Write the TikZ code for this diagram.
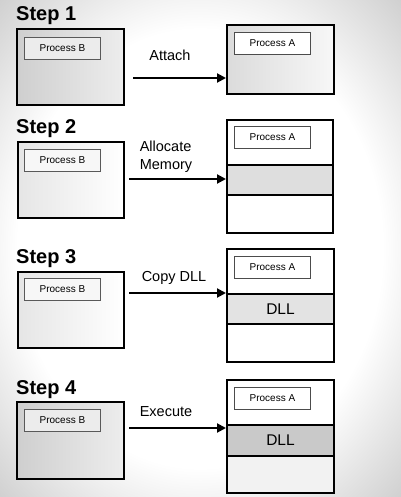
\documentclass[tikz,border=0pt]{standalone}
\usepackage{fontspec}
\setmainfont{Liberation Sans}
\usetikzlibrary{arrows.meta}
\pgfdeclareradialshading{vign}{\pgfpoint{0bp}{0bp}}{color(0bp)=(white); color(19bp)=(white); color(31bp)=(gray!40); color(50bp)=(gray!80)}
\tikzset{
  box/.style={draw=black, line width=2pt, rectangle, inner sep=0pt, anchor=north west},
  pbox/.style={draw=gray!70!black, line width=0.9pt, fill=gray!15, rectangle, inner sep=0pt, anchor=north west, minimum width=76pt, minimum height=22pt, font=\fontsize{10}{12}\selectfont},
  pabox/.style={draw=gray!60!black, line width=0.9pt, fill=white, rectangle, inner sep=0pt, anchor=north west, minimum width=76pt, minimum height=22pt, font=\fontsize{10}{12}\selectfont},
  comp/.style={draw=black, line width=2pt, rectangle, inner sep=0pt, anchor=north west, font=\fontsize{15.5}{18}\selectfont},
  steplbl/.style={inner sep=0pt, anchor=base west, font=\bfseries\fontsize{20}{22}\selectfont},
  actlbl/.style={inner sep=0pt, align=left, font=\fontsize{14.5}{18}\selectfont},
  arr/.style={line width=2pt, -{Triangle[length=9pt,width=9pt]}}
}
\begin{document}
\begin{tikzpicture}[x=1pt,y=-1pt]
\useasboundingbox (0,0) rectangle (400,497);
\shade[shading=vign] (-40,-40) rectangle (440,537);
% Step 1
\node[steplbl] (t1) at (16,21) {Step 1};
\node[box, left color=gray!38, right color=gray!14, minimum width=107pt, minimum height=76pt] (L1) at (16,28) {};
\node[pbox] (PB1) at (24,37) {Process B};
\node[box, left color=gray!28, right color=gray!6, minimum width=107pt, minimum height=69pt] (R1) at (226,24) {};
\node[pabox] (PA1) at (234,32) {Process A};
\node[actlbl] (a1) at (170,55) {Attach};
\coordinate (s1) at (133,78);
\draw[arr] (s1) -- (s1 -| R1.west);
% Step 2
\node[steplbl] (t2) at (16,134) {Step 2};
\node[box, left color=gray!20, right color=white, minimum width=106pt, minimum height=76pt] (L2) at (17,141) {};
\node[pbox, fill=gray!6] (PB2) at (24,149) {Process B};
\node[box, fill=white, minimum width=106pt, minimum height=113pt] (R2) at (226,119) {};
\node[comp, fill=gray!26, minimum width=106pt, minimum height=30pt] (C2) at (226,164) {};
\node[pabox] (PA2) at (234,126) {Process A};
\node[actlbl] (a2) at (166,157) {Allocate\\Memory};
\coordinate (s2) at (129,179);
\draw[arr] (s2) -- (s2 -| R2.west);
% Step 3
\node[steplbl] (t3) at (16,263) {Step 3};
\node[box, left color=gray!20, right color=white, minimum width=106pt, minimum height=76pt] (L3) at (17,271) {};
\node[pbox, fill=gray!6] (PB3) at (24,278) {Process B};
\node[box, fill=white, minimum width=107pt, minimum height=113pt] (R3) at (226,248) {};
\node[comp, fill=gray!22, minimum width=107pt, minimum height=30pt] (C3) at (226,293) {DLL};
\node[pabox] (PA3) at (234,256) {Process A};
\node[actlbl] (a3) at (174,278) {Copy DLL};
\coordinate (s3) at (129,293);
\draw[arr] (s3) -- (s3 -| R3.west);
% Step 4
\node[steplbl] (t4) at (16,394) {Step 4};
\node[box, left color=gray!38, right color=gray!14, minimum width=107pt, minimum height=77pt] (L4) at (16,401) {};
\node[pbox] (PB4) at (24,409) {Process B};
\node[box, fill=gray!10, minimum width=107pt, minimum height=113pt] (R4) at (226,379) {};
\node[comp, fill=white, minimum width=107pt, minimum height=45pt] (U4) at (226,379) {};
\node[comp, fill=gray!42, minimum width=107pt, minimum height=31pt] (C4) at (226,424) {DLL};
\node[pabox] (PA4) at (234,387) {Process A};
\node[actlbl] (a4) at (166,412) {Execute};
\coordinate (s4) at (129,428);
\draw[arr] (s4) -- (s4 -| R4.west);
\end{tikzpicture}
\end{document}
